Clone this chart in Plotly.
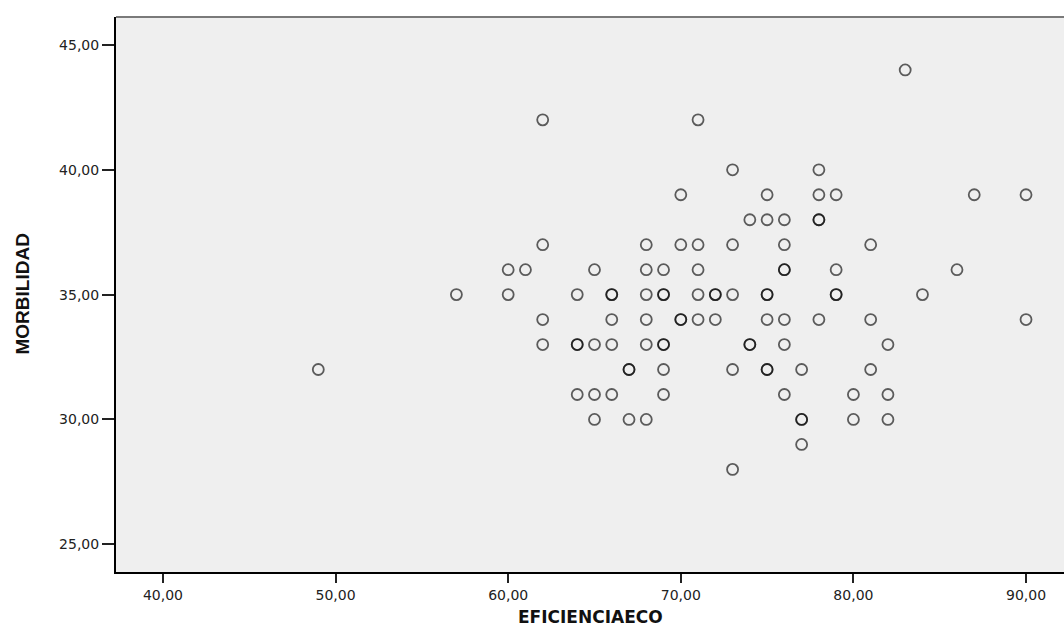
import plotly.graph_objects as go

# Data (EFICIENCIAECO vs MORBILIDAD)
eficiencia = [
    83,
    62, 71,
    73, 78,
    70, 75, 78, 79, 87, 90,
    74, 75, 76, 78, 78,
    62, 68, 70, 71, 73, 76, 81,
    60, 61, 65, 68, 69, 71, 76, 76, 79, 86,
    57, 60, 64, 66, 66, 68, 69, 69, 71, 72, 72, 73, 75, 75, 79, 79, 84,
    62, 66, 68, 70, 70, 71, 72, 75, 76, 78, 81, 90,
    62, 64, 64, 65, 66, 68, 69, 69, 74, 74, 76, 82,
    49, 67, 67, 69, 73, 75, 75, 77, 81,
    64, 65, 66, 69, 76, 80, 82,
    65, 67, 68, 77, 77, 80, 82,
    77,
    73,
]
morbilidad = (
    [44] * 1 + [42] * 2 + [40] * 2 + [39] * 6 + [38] * 5 + [37] * 7 + [36] * 10
    + [35] * 17 + [34] * 12 + [33] * 12 + [32] * 9 + [31] * 7 + [30] * 7 + [29] * 1 + [28] * 1
)

x_ticks = [40, 50, 60, 70, 80, 90]
y_ticks = [25, 30, 35, 40, 45]

fig = go.Figure()
fig.add_trace(go.Scatter(
    x=eficiencia, y=morbilidad, mode="markers",
    marker=dict(symbol="circle-open", size=11, color="rgba(0,0,0,0.62)",
                line=dict(width=1.8, color="rgba(0,0,0,0.62)")),
    showlegend=False, hoverinfo="x+y",
))

fig.update_layout(
    width=1064, height=628,
    margin=dict(l=116, r=0, t=17, b=56),
    paper_bgcolor="white", plot_bgcolor="#efefef",
    separators=",.",
    font=dict(family="DejaVu Sans, Liberation Sans, Arial", size=14, color="#222"),
    xaxis=dict(range=[37.28, 92.2], tickvals=x_ticks, tickformat=".2f",
               showgrid=False, zeroline=False, showline=True, linecolor="black", linewidth=2,
               ticks="outside", ticklen=9, tickwidth=2, tickcolor="#222",
               tickfont=dict(size=14, color="#222")),
    yaxis=dict(range=[23.89, 46.12], tickvals=y_ticks, tickformat=".2f",
               showgrid=False, zeroline=False, showline=True, linecolor="black", linewidth=2,
               ticks="outside", ticklen=12, tickwidth=2, tickcolor="#222",
               tickfont=dict(size=14, color="#222")),
    shapes=[dict(type="line", xref="paper", yref="paper", x0=0, x1=1, y0=1, y1=1,
                 line=dict(color="#7a7a7a", width=2))],
    annotations=[
        dict(text="<b>EFICIENCIAECO</b>", xref="paper", yref="paper", x=0.5, y=0,
             yshift=-45, xanchor="center", yanchor="middle", showarrow=False,
             font=dict(family="DejaVu Sans, Arial", size=17, color="#111")),
        dict(text="<b>MORBILIDAD</b>", xref="paper", yref="paper", x=0, y=0.5,
             xshift=-94, xanchor="center", yanchor="middle", showarrow=False, textangle=-90,
             font=dict(family="Liberation Sans, Arial", size=19, color="#111")),
    ],
)

fig.write_html("out.html")
